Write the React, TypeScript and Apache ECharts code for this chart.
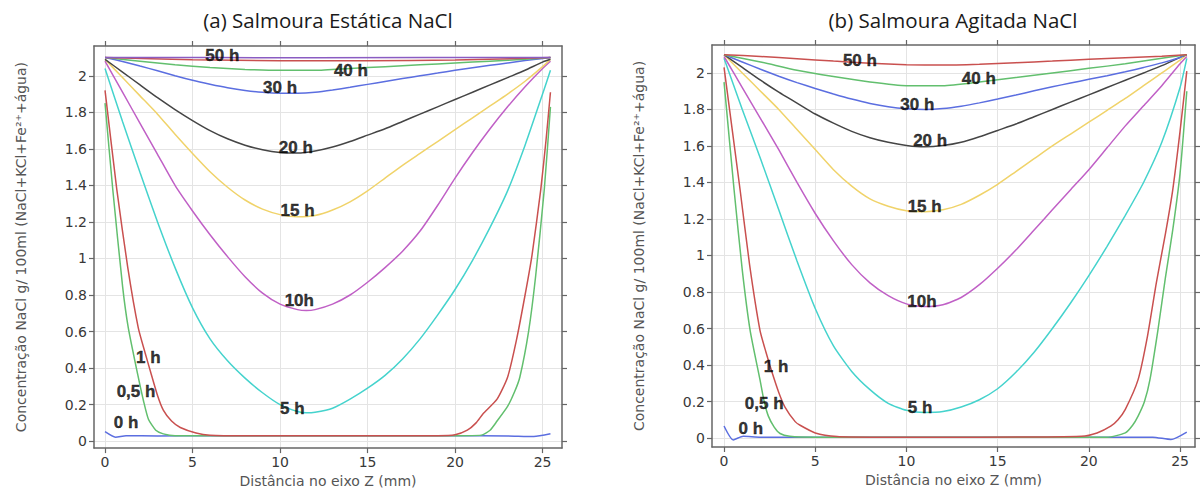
import React, { useEffect, useRef } from "react";
import * as echarts from "echarts";

// ---------- ticks ----------
const X_TICKS = [0, 5, 10, 15, 20, 25];
const Y_TICKS = [0, 0.2, 0.4, 0.6, 0.8, 1, 1.2, 1.4, 1.6, 1.8, 2];

const TITLE_A = "(a) Salmoura Estática NaCl";
const TITLE_B = "(b) Salmoura Agitada NaCl";
const X_NAME = "Distância no eixo Z (mm)";
const Y_NAME = "Concentração NaCl g/ 100ml (NaCl+KCl+Fe²⁺+água)";

// ---------- (a) Salmoura Estática ----------
const A_0H = [[0, 0.052], [0.6, 0.022], [1.2, 0.03], [3, 0.028], [6, 0.03], [10, 0.03], [15, 0.03], [20, 0.03], [23, 0.028], [24.5, 0.025], [25.45, 0.04]];
const A_05H = [[0, 1.85], [0.44, 1.38], [1.0, 0.85], [1.33, 0.62], [1.9, 0.35], [2.2, 0.22], [2.48, 0.12], [2.9, 0.06], [3.33, 0.04], [4, 0.03], [6, 0.03], [10, 0.03], [15, 0.03], [20, 0.03], [21.5, 0.033], [22, 0.06], [22.4, 0.11], [23, 0.19], [23.4, 0.27], [23.7, 0.35], [24.2, 0.6], [24.6, 0.9], [25.1, 1.38], [25.45, 1.83]];
const A_1H = [[0, 1.92], [0.67, 1.38], [1.3, 0.95], [1.9, 0.62], [2.3, 0.48], [2.6, 0.38], [3.0, 0.25], [3.33, 0.17], [3.8, 0.11], [4.3, 0.075], [5.2, 0.045], [6, 0.033], [8, 0.03], [12, 0.03], [16, 0.03], [19, 0.03], [20, 0.035], [20.7, 0.06], [21.2, 0.1], [21.6, 0.15], [22.4, 0.23], [23, 0.35], [23.5, 0.55], [24, 0.8], [24.4, 1.02], [24.9, 1.38], [25.2, 1.65], [25.45, 1.91]];
const A_5H = [[0, 2.04], [1, 1.75], [2, 1.47], [3, 1.2], [4, 0.95], [5, 0.73], [6, 0.56], [7, 0.44], [8, 0.345], [9, 0.265], [10, 0.2], [11, 0.162], [11.5, 0.155], [12, 0.158], [13, 0.18], [14, 0.23], [15, 0.29], [16, 0.36], [17, 0.45], [18, 0.56], [19, 0.69], [20, 0.83], [21, 0.99], [22, 1.17], [23, 1.37], [24, 1.62], [25, 1.9], [25.45, 2.03]];
const A_10H = [[0, 2.08], [1, 1.91], [2, 1.74], [3, 1.57], [4, 1.4], [5, 1.26], [6, 1.13], [7, 1.01], [8, 0.9], [9, 0.81], [10, 0.75], [11, 0.72], [11.5, 0.715], [12, 0.72], [13, 0.75], [14, 0.8], [15, 0.87], [16, 0.95], [17, 1.04], [18, 1.15], [19, 1.29], [20, 1.44], [21, 1.58], [22, 1.71], [23, 1.83], [24, 1.94], [25, 2.04], [25.45, 2.08]];
const A_15H = [[0, 2.09], [1, 1.99], [2, 1.89], [3, 1.79], [4, 1.68], [5, 1.575], [6, 1.475], [7, 1.39], [8, 1.32], [9, 1.27], [10, 1.24], [11, 1.228], [12, 1.235], [13, 1.265], [14, 1.31], [15, 1.37], [16, 1.44], [17, 1.51], [18, 1.575], [19, 1.64], [20, 1.705], [21, 1.77], [22, 1.835], [23, 1.9], [24, 1.97], [25, 2.05], [25.45, 2.09]];
const A_20H = [[0, 2.09], [1, 2.02], [2, 1.95], [3, 1.88], [4, 1.815], [5, 1.755], [6, 1.7], [7, 1.655], [8, 1.62], [9, 1.595], [10, 1.58], [11, 1.577], [12, 1.588], [13, 1.61], [14, 1.64], [15, 1.675], [16, 1.71], [17, 1.75], [18, 1.79], [19, 1.83], [20, 1.87], [21, 1.91], [22, 1.95], [23, 1.99], [24, 2.03], [25, 2.075], [25.45, 2.09]];
const A_30H = [[0, 2.1], [1, 2.078], [2, 2.053], [3, 2.028], [4, 2.0], [5, 1.975], [6, 1.954], [7, 1.935], [8, 1.92], [9, 1.91], [10, 1.905], [11, 1.905], [12, 1.91], [13, 1.922], [14, 1.937], [15, 1.953], [16, 1.969], [17, 1.985], [18, 2.0], [19, 2.015], [20, 2.03], [21, 2.044], [22, 2.057], [23, 2.07], [24, 2.083], [25, 2.095], [25.45, 2.1]];
const A_40H = [[0, 2.1], [2, 2.08], [4, 2.06], [6, 2.045], [8, 2.035], [10, 2.03], [12, 2.03], [14, 2.04], [16, 2.05], [18, 2.06], [20, 2.07], [22, 2.08], [24, 2.09], [25.45, 2.1]];
const A_50H = [[0, 2.1], [5, 2.088], [10, 2.082], [15, 2.082], [20, 2.086], [25.45, 2.1]];
const A_60H = [[0, 2.1], [12, 2.099], [25.45, 2.1]];

const A_LABELS: [string, number, number][] = [
  ["50 h", 6.7, 2.11], ["40 h", 14.05, 2.03], ["30 h", 10.0, 1.935], ["20 h", 10.9, 1.61],
  ["15 h", 11.0, 1.26], ["10h", 11.1, 0.77], ["5 h", 10.7, 0.18], ["1 h", 2.47, 0.46],
  ["0,5 h", 1.77, 0.27], ["0 h", 1.2, 0.1],
];

// ---------- (b) Salmoura Agitada ----------
const B_0H = [[0, 0.066], [0.5, -0.01], [1.05, 0.01], [2, 0.005], [6, 0.005], [12, 0.005], [18, 0.005], [23.5, 0.005], [24.5, -0.008], [25.37, 0.033]];
const B_05H = [[0, 1.95], [0.55, 1.36], [1.0, 0.92], [1.43, 0.59], [1.97, 0.32], [2.2, 0.2], [2.43, 0.12], [2.75, 0.06], [3.07, 0.025], [3.6, 0.01], [5, 0.005], [10, 0.005], [15, 0.005], [21, 0.005], [22, 0.028], [22.4, 0.07], [22.7, 0.12], [23.05, 0.2], [23.35, 0.32], [23.8, 0.6], [24.2, 0.88], [24.6, 1.14], [25, 1.45], [25.37, 1.9]];
const B_1H = [[0, 2.03], [0.88, 1.36], [1.4, 0.95], [1.97, 0.59], [2.3, 0.47], [2.6, 0.37], [3, 0.25], [3.34, 0.17], [3.9, 0.09], [4.17, 0.07], [5, 0.028], [6.2, 0.008], [8, 0.005], [14, 0.005], [19.6, 0.01], [20.45, 0.028], [21.2, 0.065], [21.6, 0.1], [22, 0.157], [22.7, 0.32], [23.2, 0.55], [23.7, 0.85], [24.2, 1.12], [24.6, 1.36], [25, 1.68], [25.37, 2.01]];
const B_5H = [[0, 2.08], [1, 1.8], [2, 1.53], [3, 1.25], [4, 0.97], [5, 0.71], [6, 0.505], [7, 0.365], [8, 0.265], [9, 0.19], [10, 0.152], [11, 0.14], [12, 0.145], [13, 0.17], [14, 0.21], [15, 0.27], [16, 0.36], [17, 0.47], [18, 0.6], [19, 0.74], [20, 0.89], [21, 1.05], [22, 1.22], [23, 1.4], [24, 1.62], [25, 1.92], [25.37, 2.08]];
const B_10H = [[0, 2.09], [1, 1.92], [2, 1.75], [3, 1.58], [4, 1.4], [5, 1.23], [6, 1.08], [7, 0.95], [8, 0.85], [9, 0.78], [10, 0.735], [11, 0.72], [12, 0.73], [13, 0.77], [14, 0.84], [15, 0.93], [16, 1.03], [17, 1.14], [18, 1.25], [19, 1.36], [20, 1.47], [21, 1.59], [22, 1.71], [23, 1.82], [24, 1.93], [25, 2.05], [25.37, 2.09]];
const B_15H = [[0, 2.1], [1, 2.0], [2, 1.9], [3, 1.8], [4, 1.69], [5, 1.58], [6, 1.47], [7, 1.38], [8, 1.31], [9, 1.27], [10, 1.245], [11, 1.24], [12, 1.25], [13, 1.28], [14, 1.33], [15, 1.39], [16, 1.46], [17, 1.53], [18, 1.6], [19, 1.665], [20, 1.73], [21, 1.795], [22, 1.86], [23, 1.93], [24, 2.0], [25, 2.07], [25.37, 2.1]];
const B_20H = [[0, 2.1], [1, 2.03], [2, 1.96], [3, 1.895], [4, 1.835], [5, 1.775], [6, 1.725], [7, 1.68], [8, 1.645], [9, 1.62], [10, 1.603], [11, 1.595], [12, 1.602], [13, 1.62], [14, 1.65], [15, 1.685], [16, 1.72], [17, 1.76], [18, 1.8], [19, 1.84], [20, 1.88], [21, 1.92], [22, 1.96], [23, 2.0], [24, 2.04], [25, 2.085], [25.37, 2.1]];
const B_30H = [[0, 2.1], [1, 2.06], [2, 2.02], [3, 1.982], [4, 1.947], [5, 1.915], [6, 1.885], [7, 1.857], [8, 1.833], [9, 1.815], [10, 1.804], [11, 1.8], [12, 1.805], [13, 1.818], [14, 1.836], [15, 1.857], [16, 1.879], [17, 1.902], [18, 1.924], [19, 1.945], [20, 1.965], [21, 1.985], [22, 2.006], [23, 2.03], [24, 2.055], [25, 2.085], [25.37, 2.1]];
const B_40H = [[0, 2.1], [2, 2.06], [4, 2.015], [6, 1.98], [8, 1.95], [10, 1.93], [12, 1.93], [14, 1.95], [16, 1.975], [18, 2.0], [20, 2.025], [22, 2.05], [24, 2.08], [25.37, 2.1]];
const B_50H = [[0, 2.1], [2, 2.09], [4, 2.078], [6, 2.065], [8, 2.053], [10, 2.045], [12, 2.043], [14, 2.048], [16, 2.056], [18, 2.065], [20, 2.075], [22, 2.083], [24, 2.092], [25.37, 2.1]];

const B_LABELS: [string, number, number][] = [
  ["50 h", 7.45, 2.07], ["40 h", 13.97, 1.97], ["30 h", 10.6, 1.825], ["20 h", 11.3, 1.63],
  ["15 h", 11.0, 1.27], ["10h", 10.85, 0.75], ["5 h", 10.75, 0.17], ["1 h", 2.85, 0.39],
  ["0,5 h", 2.2, 0.19], ["0 h", 1.47, 0.055],
];

// ---------- colours (COMSOL cycle) ----------
const C_BLUE = "#5b6ee0";
const C_GREEN = "#62bf6e";
const C_RED = "#c9504f";
const C_CYAN = "#45d3cd";
const C_MAGENTA = "#c060c6";
const C_YELLOW = "#f0d36a";
const C_BLACK = "#454545";
const C_PURPLE = "#8a5cc2";

const A_SERIES: [number[][], string][] = [
  [A_0H, C_BLUE], [A_05H, C_GREEN], [A_1H, C_RED], [A_5H, C_CYAN], [A_10H, C_MAGENTA],
  [A_15H, C_YELLOW], [A_20H, C_BLACK], [A_30H, C_BLUE], [A_40H, C_GREEN], [A_50H, C_RED], [A_60H, C_PURPLE],
];
const B_SERIES: [number[][], string][] = [
  [B_0H, C_BLUE], [B_05H, C_GREEN], [B_1H, C_RED], [B_5H, C_CYAN], [B_10H, C_MAGENTA],
  [B_15H, C_YELLOW], [B_20H, C_BLACK], [B_30H, C_BLUE], [B_40H, C_GREEN], [B_50H, C_RED],
];

const FRAME = "#666";
const TICK_FONT = "DejaVu Sans";

function xAxes(gridIndex: number, min: number, max: number) {
  const common = {
    type: "value", gridIndex, min, max,
    axisLine: { show: true, onZero: false, lineStyle: { color: FRAME, width: 1.5 } },
    axisTick: { show: true, customValues: X_TICKS, length: 5, lineStyle: { color: FRAME, width: 1.2 } },
  };
  return [
    {
      ...common, position: "bottom",
      axisLabel: { show: true, customValues: X_TICKS, color: "#383838", fontSize: 14, fontFamily: TICK_FONT, margin: 7 },
      splitLine: { show: true, lineStyle: { color: "#e4e4e4", width: 1 } },
      name: X_NAME, nameLocation: "middle", nameGap: 23,
      nameTextStyle: { color: "#555", fontSize: 14, fontFamily: TICK_FONT },
    },
    { ...common, position: "top", axisLabel: { show: false }, splitLine: { show: false } },
  ];
}

function yAxes(gridIndex: number, min: number, max: number) {
  const common = {
    type: "value", gridIndex, min, max,
    axisLine: { show: true, onZero: false, lineStyle: { color: FRAME, width: 1.5 } },
    axisTick: { show: true, customValues: Y_TICKS, length: 5, lineStyle: { color: FRAME, width: 1.2 } },
  };
  return [
    {
      ...common, position: "left",
      axisLabel: { show: true, customValues: Y_TICKS, color: "#383838", fontSize: 14, fontFamily: TICK_FONT, margin: 7, formatter: (v: number) => String(v) },
      splitLine: { show: true, lineStyle: { color: "#e4e4e4", width: 1 } },
      name: Y_NAME, nameLocation: "middle", nameGap: 66, nameRotate: 90,
      nameTextStyle: { color: "#555", fontSize: 14, fontFamily: TICK_FONT },
    },
    { ...common, position: "right", axisLabel: { show: false }, splitLine: { show: false } },
  ];
}

function buildSeries(list: [number[][], string][], labels: [string, number, number][], xi: number, yi: number) {
  const s: any[] = list.map(([data, color]) => ({
    type: "line", xAxisIndex: xi, yAxisIndex: yi, data,
    showSymbol: false, symbol: "none", smooth: 0.2, silent: true,
    lineStyle: { color, width: 1.5 }, z: 2,
  }));
  s.push({
    type: "scatter", xAxisIndex: xi, yAxisIndex: yi, silent: true,
    symbol: "circle", symbolSize: 1, itemStyle: { color: "rgba(0,0,0,0)" },
    data: labels.map(([t, x, y]) => ({ name: t, value: [x, y] })),
    label: {
      show: true, position: "inside", formatter: "{b}", color: "#000",
      fontWeight: "bold", fontSize: 17, fontFamily: "Liberation Sans",
      textBorderColor: "#000", textBorderWidth: 0.4,
    },
    z: 5,
  });
  return s;
}

export default function App() {
  const ref = useRef<HTMLDivElement>(null);
  useEffect(() => {
    if (!ref.current) return;
    const chart = echarts.init(ref.current, undefined, { renderer: "svg" });
    const option: any = {
      animation: false,
      backgroundColor: "#fff",
      grid: [
        { left: 94, right: 638, top: 46, bottom: 41 },
        { left: 712, right: 5, top: 45, bottom: 46 },
      ],
      xAxis: [...xAxes(0, -0.63, 26.11), ...xAxes(1, -0.66, 25.82)],
      yAxis: [...yAxes(0, -0.038, 2.163), ...yAxes(1, -0.049, 2.153)],
      series: [
        ...buildSeries(A_SERIES, A_LABELS, 0, 0),
        ...buildSeries(B_SERIES, B_LABELS, 2, 2),
      ],
      graphic: [
        { type: "text", x: 328, y: 20, style: { text: TITLE_A, textAlign: "center", textVerticalAlign: "middle", fontSize: 20.5, fontFamily: "Open Sans", fill: "#1a1a1a" } },
        { type: "text", x: 953, y: 20, style: { text: TITLE_B, textAlign: "center", textVerticalAlign: "middle", fontSize: 20.5, fontFamily: "Open Sans", fill: "#1a1a1a" } },
      ],
    };
    chart.setOption(option);
    return () => chart.dispose();
  }, []);
  return <div ref={ref} style={{ position: "absolute", left: 0, top: 0, width: 1200, height: 493 }} />;
}
